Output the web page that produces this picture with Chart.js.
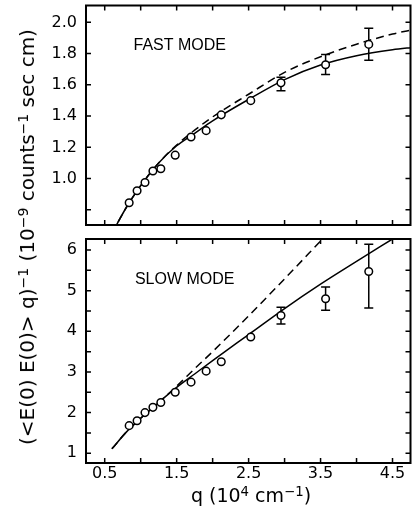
<!DOCTYPE html>
<html>
<head>
<meta charset="utf-8">
<script src="https://cdn.jsdelivr.net/npm/chart.js@4.4.0/dist/chart.umd.min.js"></script>
<style>
body { margin: 0; background: #fff; overflow: hidden; }
#wrap { position: relative; width: 414px; height: 523px; overflow: hidden; }
canvas { position: absolute; left: 0; }
#c1 { top: 0; }
#c2 { top: 232px; }
.ytitle { position: absolute; left: 27px; top: 237px; transform: translate(-50%, -50%) rotate(-90deg);
  white-space: nowrap; font: 20px "DejaVu Sans"; color: #000; }
.xtitle { position: absolute; left: 251px; top: 495px; transform: translate(-50%, -50%);
  white-space: nowrap; font: 19px "DejaVu Sans"; color: #000; }
sup { font-size: 70%; vertical-align: 0.45em; line-height: 0; }
</style>
</head>
<body>
<div id="wrap">
<canvas id="c1" width="416" height="232"></canvas>
<canvas id="c2" width="416" height="291"></canvas>
<div class="ytitle">(&lt;E(0) E(0)&gt; q)<sup>−1</sup> (10<sup>−9</sup> counts<sup>−1</sup> sec cm)</div>
<div class="xtitle">q (10<sup>4</sup> cm<sup>−1</sup>)</div>
</div>
<script>
// measured points (q in 10^4 cm^-1)
const q = [0.84, 0.95, 1.06, 1.17, 1.28, 1.48, 1.70, 1.91, 2.12, 2.53, 2.95, 3.57, 4.17];
const fast = [0.845, 0.922, 0.975, 1.049, 1.063, 1.150, 1.266, 1.307, 1.408, 1.499, 1.613, 1.729, 1.859];
const fastLo = [null, null, null, null, null, null, null, null, null, null, 1.562, 1.666, 1.757];
const fastHi = [null, null, null, null, null, null, null, null, null, null, 1.648, 1.795, 1.962];
const slow = [1.68, 1.80, 2.00, 2.13, 2.25, 2.50, 2.75, 3.02, 3.25, 3.86, 4.39, 4.80, 5.47];
const slowLo = [null, null, null, null, null, null, null, null, null, null, 4.18, 4.52, 4.57];
const slowHi = [null, null, null, null, null, null, null, null, null, null, 4.59, 5.09, 6.14];

// theory curves
const qCurve = [0.6, 0.8, 1.0, 1.25, 1.5, 1.75, 2.0, 2.5, 3.0, 3.5, 4.0, 4.5, 4.8];
const fastSolid = [0.65, 0.815, 0.955, 1.10, 1.21, 1.29, 1.37, 1.507, 1.634, 1.727, 1.787, 1.825, 1.84];
const fastDash = [0.65, 0.815, 0.955, 1.10, 1.215, 1.31, 1.395, 1.54, 1.68, 1.78, 1.86, 1.925, 1.955];
const slowSolid = [1.11, 1.52, 1.86, 2.25, 2.62, 2.95, 3.28, 3.92, 4.56, 5.16, 5.72, 6.27, 6.6];
const slowDash = [1.11, 1.52, 1.86, 2.25, 2.65, 3.08, 3.50, 4.38, 5.29, 6.22, 7.15, 8.1, 8.7];

const pts = (xs, ys) => xs.map((x, i) => ({x: x, y: ys[i]}));

Chart.defaults.font.family = 'DejaVu Sans';
Chart.defaults.font.size = 16;
Chart.defaults.color = '#000';

// error bars, drawn under the circles
const errorBars = {
  id: 'errorBars',
  beforeDatasetsDraw(chart, args, opts) {
    const {ctx, scales: {x, y}} = chart;
    ctx.save();
    ctx.strokeStyle = '#000';
    ctx.lineWidth = 1.5;
    ctx.beginPath();
    opts.lo.forEach((lo, i) => {
      if (lo == null) return;
      const px = x.getPixelForValue(q[i]);
      const y1 = y.getPixelForValue(lo), y2 = y.getPixelForValue(opts.hi[i]);
      ctx.moveTo(px, y1); ctx.lineTo(px, y2);
      ctx.moveTo(px - 4.5, y1); ctx.lineTo(px + 4.5, y1);
      ctx.moveTo(px - 4.5, y2); ctx.lineTo(px + 4.5, y2);
    });
    ctx.stroke();
    ctx.restore();
  }
};

// box + inward ticks + label text
const frame = {
  id: 'frame',
  afterDraw(chart, args, opts) {
    const {ctx, chartArea: a, scales: {x, y}} = chart;
    ctx.save();
    ctx.strokeStyle = '#000';
    ctx.lineWidth = 2;
    ctx.strokeRect(a.left, a.top, a.right - a.left, a.bottom - a.top);
    ctx.lineWidth = 1.5;
    ctx.beginPath();
    x.ticks.forEach(t => {
      const p = x.getPixelForValue(t.value);
      ctx.moveTo(p, a.bottom); ctx.lineTo(p, a.bottom - 5);
      ctx.moveTo(p, a.top); ctx.lineTo(p, a.top + 5);
    });
    y.ticks.forEach(t => {
      const p = y.getPixelForValue(t.value);
      ctx.moveTo(a.left, p); ctx.lineTo(a.left + 5, p);
      ctx.moveTo(a.right, p); ctx.lineTo(a.right - 5, p);
    });
    ctx.stroke();
    ctx.font = '16px "Liberation Sans"';
    ctx.fillStyle = '#000';
    ctx.textBaseline = 'middle';
    ctx.fillText(opts.text, x.getPixelForValue(opts.at[0]), y.getPixelForValue(opts.at[1]));
    ctx.restore();
  }
};

function makeChart(id, yPts, solid, dash, lo, hi, yOpts, xLabels, padTop, xHeight, text, at) {
  return new Chart(document.getElementById(id), {
    type: 'line',
    data: {
      datasets: [
        {data: pts(q, yPts), showLine: false, pointRadius: 3.8, pointBorderWidth: 1.5,
         pointBorderColor: '#000', pointBackgroundColor: '#fff'},
        {data: pts(qCurve, solid), borderColor: '#000', borderWidth: 1.5, pointRadius: 0,
         cubicInterpolationMode: 'monotone'},
        {data: pts(qCurve, dash), borderColor: '#000', borderWidth: 1.5, pointRadius: 0,
         borderDash: [8, 5], cubicInterpolationMode: 'monotone'}
      ]
    },
    options: {
      responsive: false,
      animation: false,
      devicePixelRatio: 1,
      layout: {padding: {top: padTop, left: 0, right: 0, bottom: 0}},
      plugins: {
        legend: {display: false},
        tooltip: {enabled: false},
        errorBars: {lo: lo, hi: hi},
        frame: {text: text, at: at}
      },
      scales: {
        x: {
          type: 'linear', min: 0.24, max: 4.75,
          grid: {display: false, drawTicks: false},
          border: {display: false},
          ticks: {
            display: xLabels, stepSize: 0.5, autoSkip: false, includeBounds: false,
            maxRotation: 0, padding: 1,
            callback: v => (Math.round(v * 2) % 2 === 1 ? v.toFixed(1) : '')
          },
          afterFit: s => { s.height = xHeight; s.paddingLeft = 0; s.paddingRight = 0; }
        },
        y: Object.assign({
          grid: {display: false, drawTicks: false},
          border: {display: false},
          afterFit: s => { s.width = 86; s.paddingTop = 0; s.paddingBottom = 0; }
        }, yOpts)
      }
    },
    plugins: [errorBars, frame]
  });
}

makeChart('c1', fast, fastSolid, fastDash, fastLo, fastHi, {
  min: 0.703, max: 2.108,
  ticks: {stepSize: 0.2, includeBounds: false, padding: 9,
          callback: v => (v > 0.95 ? v.toFixed(1) : '')}
}, false, 3, 7, 'FAST MODE', [0.9, 1.85]);

makeChart('c2', slow, slowSolid, slowDash, slowLo, slowHi, {
  min: 0.761, max: 6.27,
  ticks: {stepSize: 0.5, includeBounds: false, padding: 9,
          callback: v => (Math.abs(v - Math.round(v)) < 0.01 ? String(Math.round(v)) : '')}
}, true, 7, 60, 'SLOW MODE', [0.92, 5.26]);
</script>
</body>
</html>
